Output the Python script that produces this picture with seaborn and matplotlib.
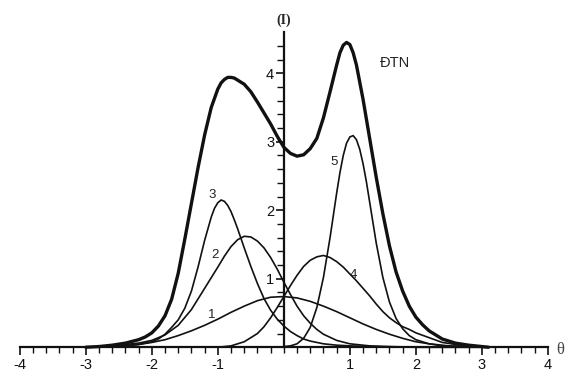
import numpy as np
import pandas as pd
import matplotlib
matplotlib.use("Agg")
import matplotlib.pyplot as plt
from matplotlib.ticker import FixedLocator
import seaborn as sns

# ---------------------------------------
# Data
# ---------------------------------------
x_sum = [-3.0, -2.8, -2.6, -2.4, -2.2, -2.1, -2.0, -1.9, -1.8, -1.7, -1.6, -1.5,
         -1.4, -1.3, -1.2, -1.1, -1.0, -0.95, -0.9, -0.85, -0.8, -0.75, -0.7,
         -0.6, -0.5, -0.4, -0.3, -0.2, -0.1, 0.0, 0.1, 0.2, 0.3, 0.4, 0.5, 0.6,
         0.7, 0.8, 0.85, 0.9, 0.95, 1.0, 1.05, 1.1, 1.2, 1.3, 1.4, 1.5, 1.6,
         1.7, 1.8, 1.9, 2.0, 2.1, 2.2, 2.4, 2.6, 2.8, 3.0, 3.1]
y_sum = [0.0, 0.01, 0.03, 0.06, 0.11, 0.15, 0.21, 0.31, 0.46, 0.70, 1.08, 1.58,
         2.10, 2.62, 3.10, 3.50, 3.77, 3.86, 3.91, 3.94, 3.94, 3.93, 3.90,
         3.84, 3.73, 3.58, 3.42, 3.26, 3.08, 2.92, 2.83, 2.79, 2.81, 2.90, 3.05,
         3.35, 3.73, 4.12, 4.30, 4.41, 4.45, 4.42, 4.30, 4.12, 3.62, 3.05, 2.48,
         1.95, 1.48, 1.10, 0.82, 0.60, 0.44, 0.33, 0.24, 0.12, 0.06, 0.03,
         0.01, 0.0]

x_1 = [-3.0, -2.6, -2.2, -2.0, -1.8, -1.6, -1.4, -1.2, -1.0, -0.8, -0.6, -0.4,
       -0.2, 0.0, 0.2, 0.4, 0.6, 0.8, 1.0, 1.2, 1.4, 1.6, 1.8, 2.0, 2.2, 2.5,
       2.8, 3.1]
y_1 = [0.0, 0.01, 0.04, 0.07, 0.11, 0.17, 0.24, 0.32, 0.41, 0.51, 0.60, 0.68,
       0.73, 0.74, 0.72, 0.67, 0.60, 0.52, 0.43, 0.34, 0.26, 0.19, 0.13, 0.08,
       0.05, 0.02, 0.01, 0.0]

x_2 = [-3.0, -2.6, -2.2, -2.0, -1.8, -1.6, -1.4, -1.2, -1.0, -0.9, -0.8, -0.7,
       -0.6, -0.5, -0.4, -0.3, -0.2, -0.1, 0.0, 0.1, 0.2, 0.3, 0.4, 0.5, 0.6,
       0.8, 1.0, 1.3, 1.6, 2.0, 3.1]
y_2 = [0.0, 0.02, 0.06, 0.10, 0.18, 0.32, 0.55, 0.86, 1.17, 1.33, 1.47, 1.57,
       1.62, 1.61, 1.55, 1.45, 1.31, 1.14, 0.95, 0.77, 0.60, 0.46, 0.35, 0.26,
       0.19, 0.10, 0.05, 0.02, 0.01, 0.0, 0.0]

x_3 = [-3.0, -2.5, -2.2, -2.0, -1.9, -1.8, -1.7, -1.6, -1.5, -1.4, -1.3, -1.2,
       -1.1, -1.05, -1.0, -0.95, -0.9, -0.85, -0.8, -0.75, -0.7, -0.6, -0.5,
       -0.4, -0.3, -0.2, -0.1, 0.0, 0.1, 0.2, 0.3, 0.4, 0.6, 0.8, 1.0, 1.5,
       2.0, 3.1]
y_3 = [0.0, 0.01, 0.04, 0.08, 0.12, 0.19, 0.29, 0.40, 0.57, 0.82, 1.17, 1.56,
       1.90, 2.03, 2.11, 2.15, 2.13, 2.07, 1.98, 1.86, 1.73, 1.45, 1.18, 0.93,
       0.71, 0.54, 0.41, 0.31, 0.23, 0.17, 0.12, 0.09, 0.05, 0.03, 0.02,
       0.005, 0.0, 0.0]

x_4 = [-1.0, -0.8, -0.6, -0.4, -0.3, -0.2, -0.1, 0.0, 0.1, 0.2, 0.3, 0.4, 0.5,
       0.6, 0.7, 0.8, 0.9, 1.0, 1.1, 1.2, 1.3, 1.4, 1.5, 1.6, 1.7, 1.8, 1.9,
       2.0, 2.2, 2.4, 2.6, 2.8, 3.1]
y_4 = [0.0, 0.02, 0.08, 0.20, 0.30, 0.43, 0.58, 0.74, 0.90, 1.05, 1.18, 1.27,
       1.32, 1.34, 1.31, 1.25, 1.17, 1.07, 0.97, 0.86, 0.75, 0.63, 0.52, 0.43,
       0.36, 0.30, 0.26, 0.21, 0.14, 0.07, 0.04, 0.02, 0.0]

x_5 = [0.0, 0.1, 0.2, 0.3, 0.4, 0.5, 0.6, 0.7, 0.8, 0.85, 0.9, 0.95, 1.0, 1.05,
       1.1, 1.15, 1.2, 1.25, 1.3, 1.4, 1.5, 1.6, 1.7, 1.8, 1.9, 2.0, 2.2, 2.4,
       2.7, 3.1]
y_5 = [0.01, 0.02, 0.05, 0.13, 0.29, 0.58, 1.02, 1.60, 2.25, 2.55, 2.80, 2.98,
       3.07, 3.09, 3.03, 2.89, 2.68, 2.42, 2.12, 1.52, 1.02, 0.66, 0.42, 0.27,
       0.17, 0.11, 0.05, 0.02, 0.01, 0.0]

curve_labels = ["1", "2", "3", "4", "5", "ĐTN"]
label_x = [-1.09, -1.04, -1.08, 1.06, 0.76, 1.68]
label_y = [0.47, 1.35, 2.22, 1.05, 2.70, 4.15]
label_size = [9.5, 9.5, 9.5, 9.5, 9.5, 10.5]

x_major = [-4, -3, -2, -1, 1, 2, 3, 4]
x_major_labels = ["-4", "-3", "-2", "-1", "1", "2", "3", "4"]
y_major = [1, 2, 3, 4]
y_major_labels = ["1", "2", "3", "4"]

# ---------------------------------------
# Plot
# ---------------------------------------
sns.set_style("white")
plt.rcParams["font.family"] = ["Liberation Sans", "DejaVu Sans"]

fig = plt.figure(figsize=(5.69, 3.76), dpi=100)
ax = fig.add_axes([0, 0, 1, 1])

thin = [(x_1, y_1), (x_2, y_2), (x_3, y_3), (x_4, y_4), (x_5, y_5)]
for xs, ys in thin:
    sns.lineplot(x=xs, y=ys, ax=ax, color="#111111", linewidth=1.2,
                 sort=False, estimator=None)
sns.lineplot(x=x_sum, y=y_sum, ax=ax, color="#111111", linewidth=2.4,
             sort=False, estimator=None)

for lab, lx, ly, fs in zip(curve_labels, label_x, label_y, label_size):
    ax.text(lx, ly, lab, ha="center", va="center", fontsize=fs, color="#222222")

# axes crossing at the origin
ax.set_xlim(-4.3, 4.32)
ax.set_ylim(-0.42, 5.07)
for side in ["top", "right"]:
    ax.spines[side].set_visible(False)
ax.spines["left"].set_position(("data", 0))
ax.spines["bottom"].set_position(("data", 0))
ax.spines["left"].set_bounds(0, 4.6)
ax.spines["bottom"].set_bounds(-4, 4)
for side in ["left", "bottom"]:
    ax.spines[side].set_linewidth(1.6)
    ax.spines[side].set_color("#111111")

ax.xaxis.set_major_locator(FixedLocator(x_major))
ax.xaxis.set_minor_locator(FixedLocator(np.round(np.arange(-4, 4.01, 0.2), 2)))
ax.yaxis.set_major_locator(FixedLocator(y_major))
ax.yaxis.set_minor_locator(FixedLocator(np.round(np.arange(0.2, 4.5, 0.2), 2)))
ax.tick_params(which="both", bottom=True, left=True, top=False, right=False)
ax.tick_params(axis="x", which="major", direction="out", length=6, width=1.2,
               labelsize=10.5, pad=2, colors="#111111")
ax.tick_params(axis="x", which="minor", direction="out", length=4.5, width=1.0,
               colors="#111111")
ax.tick_params(axis="y", which="major", direction="out", length=6, width=1.2,
               labelsize=10.5, pad=1, colors="#111111")
ax.tick_params(axis="y", which="minor", direction="out", length=5, width=1.0,
               colors="#111111")
ax.set_xticklabels(x_major_labels)
ax.set_yticklabels(y_major_labels)

ax.text(0, 4.78, "(I)", ha="center", va="center", fontsize=10,
        family=["Liberation Serif", "DejaVu Serif"], fontweight="bold")
ax.text(4.13, -0.04, "θ", ha="left", va="center", fontsize=12,
        family=["Liberation Serif", "DejaVu Serif"], color="#444444")

fig.savefig("out.png", dpi=100)
